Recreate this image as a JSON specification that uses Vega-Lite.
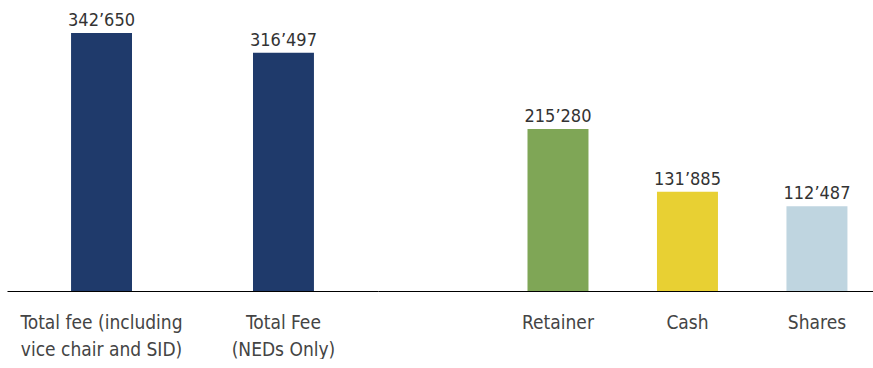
{
  "$schema": "https://vega.github.io/schema/vega-lite/v6.json",
  "padding": {"left": 7, "top": 0, "right": 0, "bottom": 0},
  "background": "white",
  "spacing": 0,
  "bounds": "flush",
  "config": {
    "view": {"stroke": null},
    "locale": {"number": {"decimal": ".", "thousands": "’", "grouping": [3], "currency": ["", ""]}},
    "axisX": {
      "labelFont": "DejaVu Sans Condensed, sans-serif",
      "labelFontSize": 19,
      "labelColor": "#444444",
      "labelAngle": 0,
      "labelLimit": 0,
      "labelLineHeight": 27,
      "labelPadding": 22,
      "ticks": false,
      "tickSize": 0,
      "domainColor": "#000000",
      "domainWidth": 1.2,
      "title": null,
      "labelExpr": "split(datum.label, '\\n')"
    }
  },
  "datasets": {
    "fees": [
      {"group": "total", "category": "Total fee (including\nvice chair and SID)", "value": 342650},
      {"group": "total", "category": "Total Fee\n(NEDs Only)", "value": 316497},
      {"group": "split", "category": "Retainer", "value": 215280},
      {"group": "split", "category": "Cash", "value": 131885},
      {"group": "split", "category": "Shares", "value": 112487}
    ]
  },
  "resolve": {"scale": {"x": "independent", "color": "independent"}},
  "hconcat": [
    {
      "width": 371,
      "height": 291,
      "data": {"name": "fees"},
      "transform": [{"filter": "datum.group == 'total'"}],
      "encoding": {
        "x": {"field": "category", "type": "nominal", "sort": null,
              "scale": {"paddingInner": 0.665, "paddingOuter": 0.352}},
        "y": {"field": "value", "type": "quantitative", "scale": {"domain": [0, 386500]}, "axis": null}
      },
      "layer": [
        {"mark": {"type": "bar", "color": "#1F3A6B"}},
        {"mark": {"type": "text", "baseline": "alphabetic", "dy": -7, "fontSize": 18,
                  "font": "DejaVu Sans Condensed, sans-serif", "color": "#333333"},
         "encoding": {"text": {"field": "value", "type": "quantitative", "format": ",d"}}}
      ]
    },
    {
      "width": 495,
      "height": 291,
      "data": {"name": "fees"},
      "transform": [{"filter": "datum.group == 'split'"}],
      "encoding": {
        "x": {"field": "category", "type": "nominal", "sort": null,
              "scale": {"paddingInner": 0.529, "paddingOuter": 0.676, "align": 0.854}},
        "y": {"field": "value", "type": "quantitative", "scale": {"domain": [0, 386500]}, "axis": null}
      },
      "layer": [
        {"mark": {"type": "bar"},
         "encoding": {"color": {"field": "category", "type": "nominal", "legend": null,
                                "scale": {"domain": ["Retainer", "Cash", "Shares"], "range": ["#7FA656", "#E8D033", "#BFD5E0"]}}}},
        {"mark": {"type": "text", "baseline": "alphabetic", "dy": -7, "fontSize": 18,
                  "font": "DejaVu Sans Condensed, sans-serif", "color": "#333333"},
         "encoding": {"text": {"field": "value", "type": "quantitative", "format": ",d"}}}
      ]
    }
  ]
}
